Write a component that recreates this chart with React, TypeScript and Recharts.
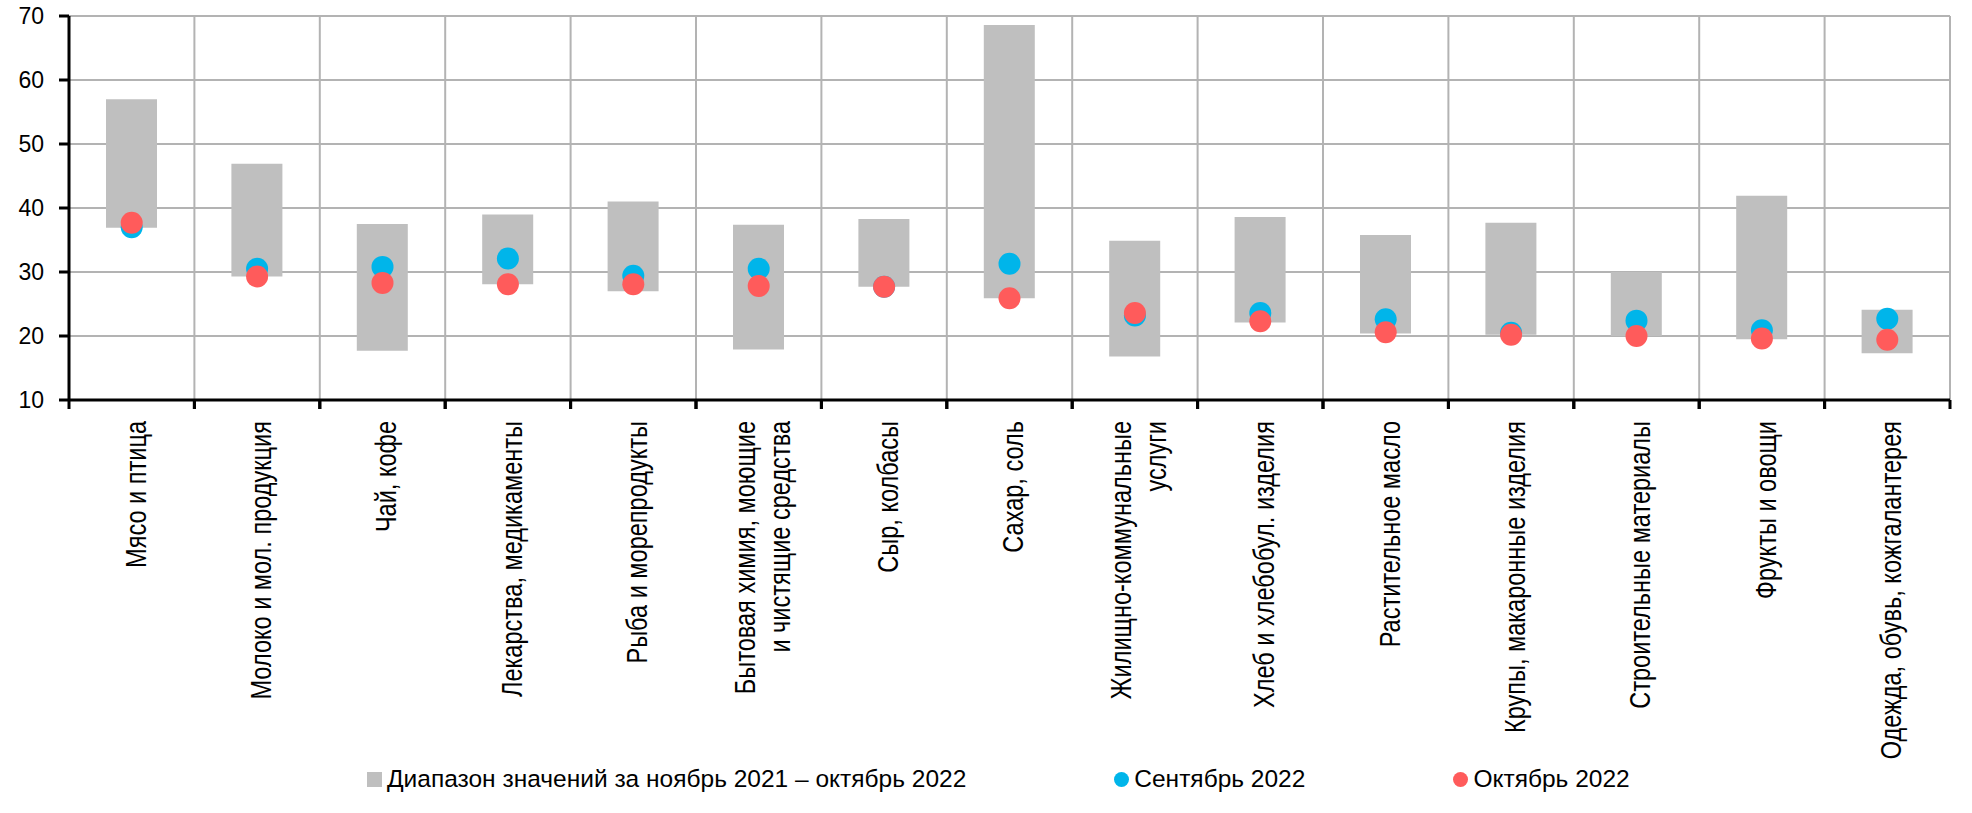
import { ComposedChart, Bar, Line, XAxis, YAxis, CartesianGrid, Legend } from 'recharts';

const categories = [
  'Мясо и птица',
  'Молоко и мол. продукция',
  'Чай, кофе',
  'Лекарства, медикаменты',
  'Рыба и морепродукты',
  'Бытовая химия, моющие\nи чистящие средства',
  'Сыр, колбасы',
  'Сахар, соль',
  'Жилищно-коммунальные\nуслуги',
  'Хлеб и хлебобул. изделия',
  'Растительное масло',
  'Крупы, макаронные изделия',
  'Строительные материалы',
  'Фрукты и овощи',
  'Одежда, обувь, кожгалантерея',
];

// range over Nov 2021 – Oct 2022
const rangeLow = [36.9, 29.3, 17.7, 28.1, 27.0, 17.9, 27.7, 25.9, 16.8, 22.1, 20.4, 20.2, 20.0, 19.5, 17.3];
const rangeHigh = [57.0, 46.9, 37.5, 39.0, 41.0, 37.4, 38.3, 68.6, 34.9, 38.6, 35.8, 37.7, 30.0, 41.9, 24.1];
const sep2022 = [37.0, 30.5, 30.8, 32.1, 29.4, 30.5, 27.7, 31.3, 23.2, 23.6, 22.6, 20.5, 22.4, 20.9, 22.7];
const oct2022 = [37.7, 29.3, 28.3, 28.1, 28.1, 27.8, 27.7, 25.9, 23.6, 22.3, 20.6, 20.2, 20.0, 19.6, 19.4];
const yTicks = [10, 20, 30, 40, 50, 60, 70];

const rangeName = 'Диапазон значений за ноябрь 2021 – октябрь 2022';
const sepName = 'Сентябрь 2022';
const octName = 'Октябрь 2022';

const RANGE_COLOR = '#bfbfbf';
const SEP_COLOR = '#00b5ea';
const OCT_COLOR = '#ff5b5b';

const legendItems = [
  { name: rangeName, color: RANGE_COLOR, round: false },
  { name: sepName, color: SEP_COLOR, round: true },
  { name: octName, color: OCT_COLOR, round: true },
];

const data = categories.map((name, i) => ({
  name,
  range: [rangeLow[i], rangeHigh[i]],
  sep: sep2022[i],
  oct: oct2022[i],
}));

const W = 1972;
const H = 813;
const plotLeft = 69;
const plotRight = 1950;
const plotBottom = 400;
const band = (plotRight - plotLeft) / categories.length;
const font = 'Liberation Sans, Arial, sans-serif';
const TICK_SIZE = 9;
const TICK_MARGIN = 12;

const gridX = Array.from({ length: categories.length + 1 }, (_, i) => plotLeft + i * band);

function CategoryTick(props: any) {
  const { x, y, payload } = props;
  const lines = String(payload.value).split('\n');
  const axisY = y - TICK_SIZE - TICK_MARGIN;
  return (
    <g>
      <line x1={x - band / 2} x2={x - band / 2} y1={axisY} y2={axisY + TICK_SIZE} stroke="#000" strokeWidth={3} />
      <line x1={x + band / 2} x2={x + band / 2} y1={axisY} y2={axisY + TICK_SIZE} stroke="#000" strokeWidth={3} />
      {lines.map((line, i) => {
        const lx = x + 3 + (i - (lines.length - 1) / 2) * 35;
        return (
          <text
            key={i}
            transform={`translate(${lx},${y}) rotate(-90) scale(0.785,1)`}
            textAnchor="end"
            dy="0.36em"
            fontSize={30}
            fontFamily={font}
            fill="#000"
          >
            {line}
          </text>
        );
      })}
    </g>
  );
}

function LegendContent() {
  return (
    <div style={{ display: 'flex', alignItems: 'center', gap: 148, paddingLeft: 367, fontFamily: font, fontSize: 24.5, color: '#000' }}>
      {legendItems.map((it) => (
        <div key={it.name} style={{ display: 'flex', alignItems: 'center', gap: 5 }}>
          <span
            style={{
              display: 'inline-block',
              width: 15,
              height: 15,
              background: it.color,
              borderRadius: it.round ? '50%' : 0,
            }}
          />
          <span style={{ lineHeight: '28px' }}>{it.name}</span>
        </div>
      ))}
    </div>
  );
}

export default function App() {
  return (
    <div style={{ position: 'absolute', left: 0, top: 0, width: W, height: H, background: '#fff' }}>
      <ComposedChart width={W} height={H} data={data} margin={{ top: 16, right: W - plotRight, bottom: 0, left: 0 }}>
        <CartesianGrid stroke="#b3b3b3" strokeWidth={2} verticalPoints={gridX} />
        <XAxis
          dataKey="name"
          height={H - plotBottom}
          interval={0}
          axisLine={{ stroke: '#000', strokeWidth: 3 }}
          tickLine={false}
          tickSize={TICK_SIZE}
          tickMargin={TICK_MARGIN}
          tick={(p: any) => <CategoryTick {...p} />}
        />
        <YAxis
          type="number"
          domain={[10, 70]}
          ticks={yTicks}
          interval={0}
          width={plotLeft}
          allowDataOverflow
          axisLine={{ stroke: '#000', strokeWidth: 3 }}
          tickLine={{ stroke: '#000', strokeWidth: 3 }}
          tickSize={10}
          tickMargin={15}
          tick={{ fill: '#000', fontSize: 23, fontFamily: font }}
        />
        <Legend
          layout="horizontal"
          verticalAlign="middle"
          align="center"
          wrapperStyle={{ position: 'absolute', left: 0, top: 765, width: W }}
          content={<LegendContent />}
        />
        <Bar dataKey="range" name={rangeName} fill={RANGE_COLOR} barSize={51} isAnimationActive={false} />
        <Line
          dataKey="sep"
          name={sepName}
          stroke="none"
          dot={{ r: 11, fill: SEP_COLOR, stroke: 'none' }}
          activeDot={false}
          isAnimationActive={false}
        />
        <Line
          dataKey="oct"
          name={octName}
          stroke="none"
          dot={{ r: 11, fill: OCT_COLOR, stroke: 'none' }}
          activeDot={false}
          isAnimationActive={false}
        />
      </ComposedChart>
    </div>
  );
}
